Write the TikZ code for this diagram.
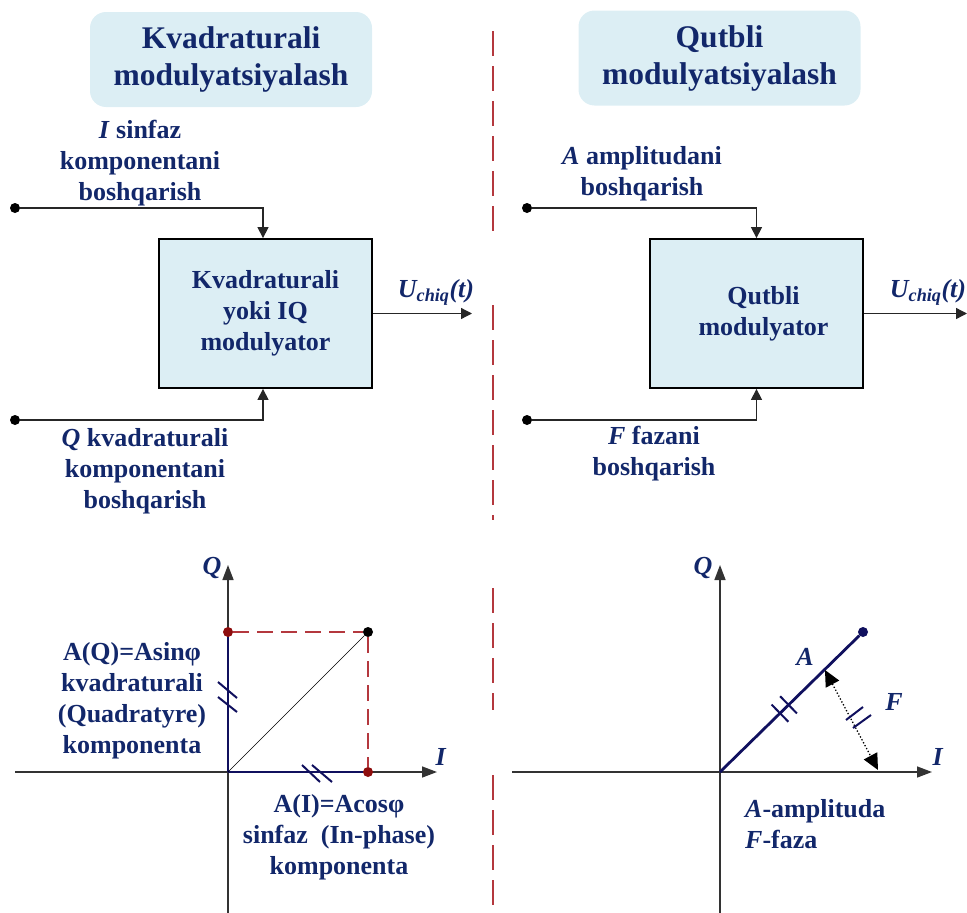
\documentclass[tikz,border=0pt]{standalone}
\usepackage{fontspec}
\setmainfont{Liberation Serif}
\usepackage{tikz}
\usetikzlibrary{arrows.meta}
\definecolor{navy}{HTML}{12276A}
\definecolor{vecblue}{HTML}{10105E}
\definecolor{paleblue}{HTML}{DCEEF4}
\definecolor{divred}{HTML}{B4383E}
\definecolor{ptred}{HTML}{8E0E0E}

\begin{document}
\begin{tikzpicture}[x=1pt,y=-1pt,>={Triangle[length=11pt,width=11pt]},
    lbl/.style={text=navy,font=\fontsize{26}{31}\selectfont\bfseries,align=center,inner sep=0pt},
    titlebox/.style={fill=paleblue,rounded corners=16pt,minimum width=282pt,minimum height=95pt,
      text=navy,font=\fontsize{31.5}{37}\selectfont\bfseries,align=center},
    modbox/.style={lbl,draw=black,line width=1.8pt,fill=paleblue,minimum width=213pt,minimum height=149pt},
    wire/.style={line width=1.3pt,draw=black!85},
    axis/.style={line width=1.5pt,draw=black!80,-{Triangle[length=15pt,width=11pt]}},
    vec/.style={line width=2.8pt,draw=vecblue},
    tick/.style={line width=2pt,draw=vecblue},
    guide/.style={line width=1.4pt,draw=divred,dash pattern=on 16pt off 8pt},
    divider/.style={line width=2pt,draw=divred,dash pattern=on 25pt off 10pt},
    pin/.style={circle,fill=black,inner sep=0pt,minimum size=10pt}]
  \useasboundingbox (0,0) rectangle (967,913);

  % divider between the two schemes
  \draw[divider] (493,31) -- (493,233);
  \draw[divider] (493,305) -- (493,520);
  \draw[divider] (493,588) -- (493,710);
  \draw[divider] (493,775) -- (493,913);

  % ---- quadrature modulation ----
  \node[titlebox] (titleIQ) at (231,59.5) {Kvadraturali\\modulyatsiyalash};
  \node[modbox] (modIQ) at (265.5,313.5) {Kvadraturali\\yoki IQ\\modulyator};
  \node[pin] (inI) at (15,208) {};
  \node[pin] (inQ) at (15,420) {};
  \coordinate (outIQ) at (472,313.5);
  \draw[wire,->] (inI) -| ([xshift=-2.5pt]modIQ.north);
  \draw[wire,->] (inQ) -| ([xshift=-2.5pt]modIQ.south);
  \draw[wire,->] (modIQ.east) -- (outIQ);
  \node[lbl] (lblI) at (140,163) {\textit{I} sinfaz\\komponentani\\boshqarish};
  \node[lbl] (lblQ) at (145,471) {\textit{Q} kvadraturali\\komponentani\\boshqarish};
  \node[lbl,anchor=south] (uIQ) at (436,306) {\textit{U\textsubscript{chiq}(t)}};

  % ---- polar modulation ----
  \node[titlebox] (titleP) at (719.5,58) {Qutbli\\modulyatsiyalash};
  \node[modbox] (modP) at (756.5,313.5) {\hspace*{14pt}Qutbli\\\hspace*{14pt}modulyator};
  \node[pin] (inA) at (527,208) {};
  \node[pin] (inF) at (527,420) {};
  \coordinate (outP) at (967,313.5);
  \draw[wire,->] (inA) -| (modP.north);
  \draw[wire,->] (inF) -| (modP.south);
  \draw[wire,->] (modP.east) -- (outP);
  \node[lbl] (lblA) at (642,174) {\textit{A} amplitudani\\boshqarish};
  \node[lbl] (lblF) at (654,454) {\textit{F} fazani\\boshqarish};
  \node[lbl,anchor=south] (uP) at (928,306) {\textit{U\textsubscript{chiq}(t)}};

  % ---- IQ vector diagram ----
  \coordinate (o1) at (228,772);
  \draw[axis] (15,772) -- (437,772);
  \draw[axis] (228,913) -- (228,565);
  \node[lbl] (q1) at (212,568) {\textit{Q}};
  \node[lbl] (i1) at (441,757) {\textit{I}};
  \node[pin,fill=ptred] (pq) at (228,632) {};
  \node[pin,fill=ptred] (pi) at (368,772) {};
  \node[pin] (p1) at (368,632) {};
  \draw[guide] (pq) -- (p1) -- (pi);
  \draw[vec] (o1) -- (pq);
  \draw[vec] (o1) -- (pi);
  \draw[line width=0.6pt] (o1) -- (p1);
  \draw[tick] (218,682) -- (237,698) (218,697) -- (237,712);
  \draw[tick] (302,765) -- (320,782) (312,765) -- (332,782);
  \node[lbl] (aq) at (132,701) {A(Q)=Asinφ\\kvadraturali\\(Quadratyre)\\komponenta};
  \node[lbl] (ai) at (339,837) {A(I)=Acosφ\\sinfaz\ \ (In-phase)\\komponenta};

  % ---- polar vector diagram ----
  \coordinate (o2) at (720,772);
  \draw[axis] (512,772) -- (932,772);
  \draw[axis] (720,913) -- (720,565);
  \node[lbl] (q2) at (703,568) {\textit{Q}};
  \node[lbl] (i2) at (938,757) {\textit{I}};
  \node[pin,fill=vecblue] (p2) at (863,632) {};
  \draw[vec] (o2) -- (p2);
  \draw[tick] (771.6,704.6) -- (788.4,721.8) (780.1,696.2) -- (796.9,713.4);
  \coordinate (fa) at (825,670);
  \coordinate (fb) at (878,770);
  \draw[line width=1.3pt,dotted,{Triangle[length=16pt,width=15pt]}-{Triangle[length=16pt,width=15pt]}] (fa) -- (fb);
  \draw[tick] (846,720) -- (863,707) (853,728) -- (871,715);
  \node[lbl] (avec) at (805,657) {\textit{A}};
  \node[lbl] (fang) at (894,702) {\textit{F}};
  \node[lbl,anchor=west,align=left] (legend) at (745,824) {\textit{A}-amplituda\\\textit{F}-faza};
\end{tikzpicture}
\end{document}
